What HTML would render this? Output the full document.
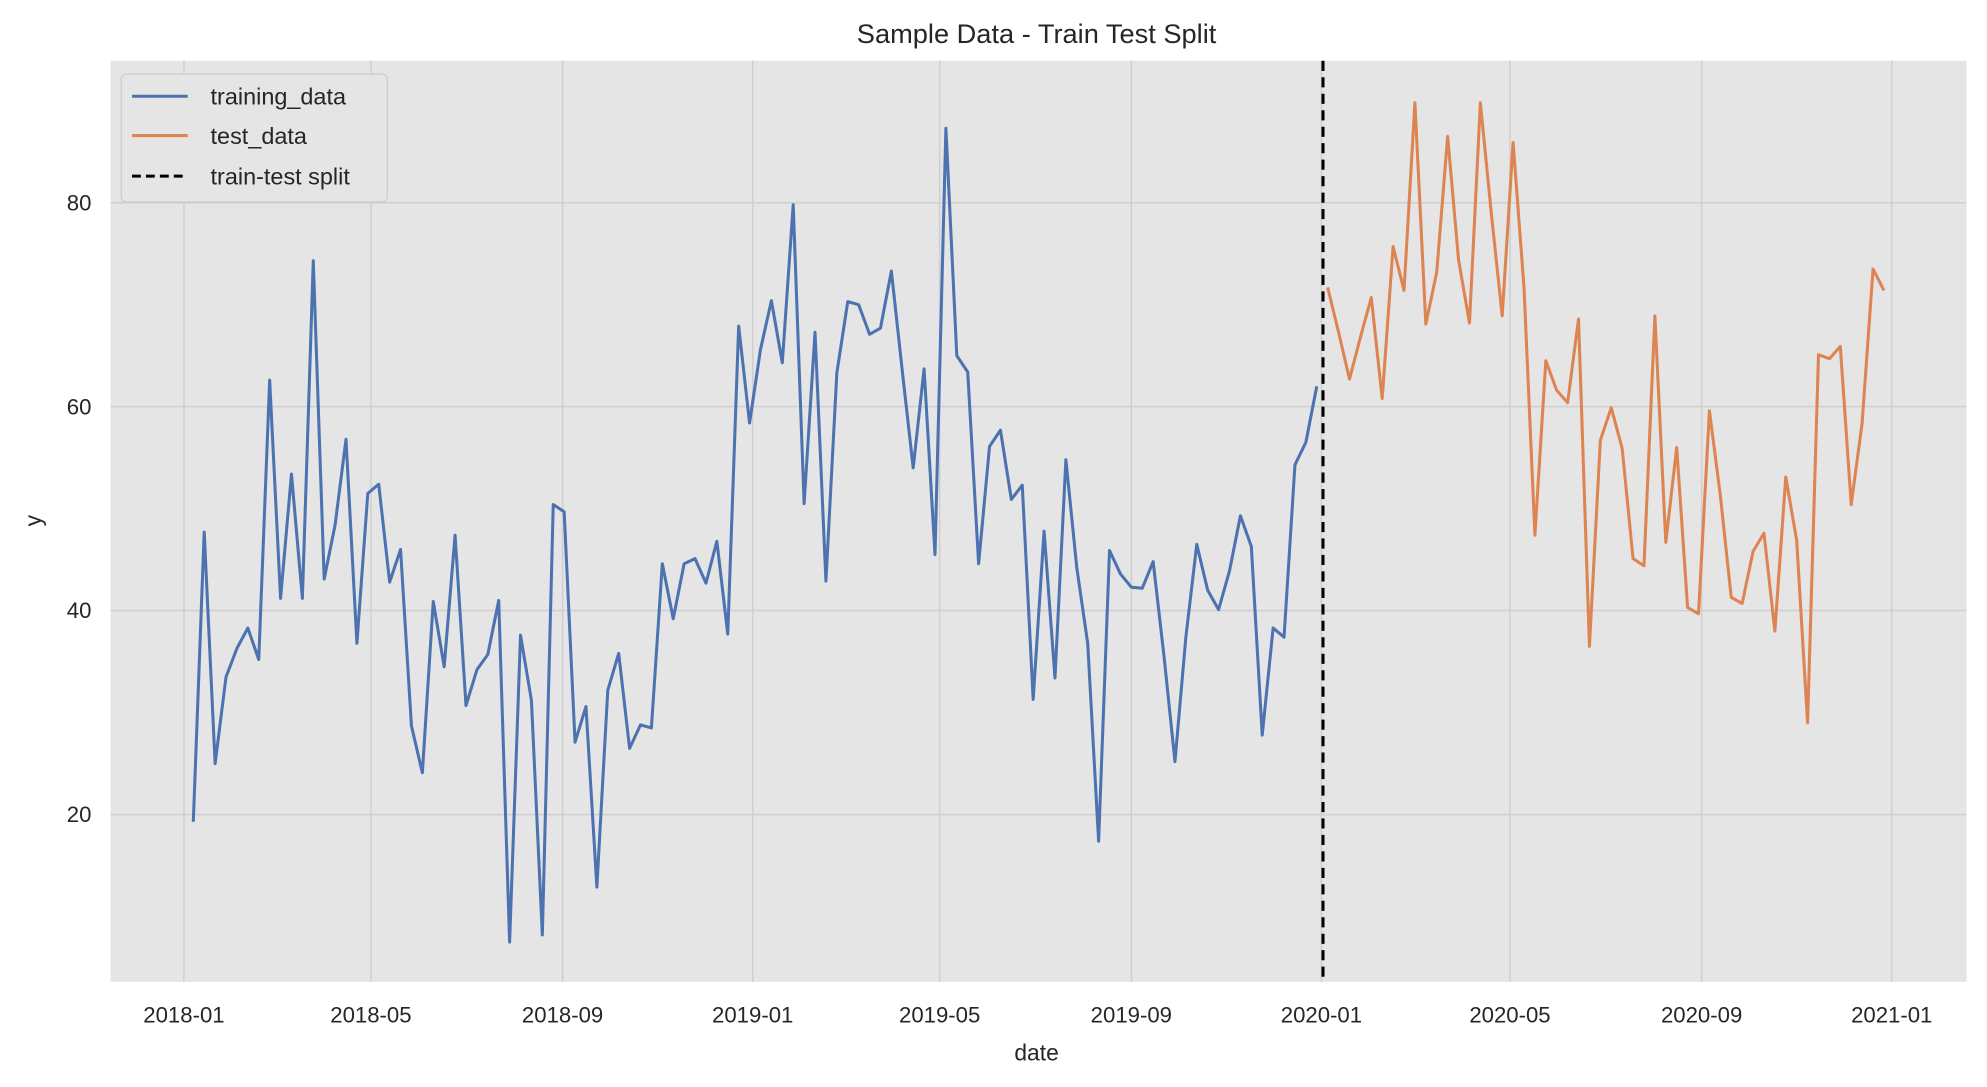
<!DOCTYPE html>
<html><head><meta charset="utf-8"><style>
html,body{margin:0;padding:0;background:#fff;}
svg{display:block;font-family:"Liberation Sans",Arial,sans-serif;}
</style></head><body>
<svg id="chart" width="1987" height="1087" viewBox="0 0 1568 858" xmlns="http://www.w3.org/2000/svg">
<rect x="87" y="48" width="1465" height="727" fill="#e5e5e5"/>
<g id="grid"></g>
<g id="series"></g>
<g id="ticks"></g>
<text x="818" y="34" text-anchor="middle" font-size="21.5" fill="#262626">Sample Data - Train Test Split</text>
<text x="818" y="837" text-anchor="middle" font-size="18" fill="#262626">date</text>
<text x="32" y="411" text-anchor="middle" font-size="18" fill="#262626" transform="rotate(-90 32 411)">y</text>
<g>
<rect x="95.5" y="58.5" width="210" height="101" rx="4" fill="#e5e5e5" stroke="#cccccc" stroke-width="1"/>
<g><line x1="104" y1="76" x2="148" y2="76" stroke="#4c72b0" stroke-width="2.4"/><text x="166" y="82.5" font-size="18.5" fill="#262626">training_data</text></g>
<g><line x1="104" y1="107" x2="148" y2="107" stroke="#dd8452" stroke-width="2.4"/><text x="166" y="113.5" font-size="18.5" fill="#262626">test_data</text></g>
<g><line x1="104" y1="139" x2="148" y2="139" stroke="#000" stroke-width="2.4" stroke-dasharray="7,4"/><text x="166" y="145.5" font-size="18.5" fill="#262626">train-test split</text></g>
</g>
</svg>
<script>
const trainStart = "2018-01-07";
const testStart = "2020-01-05";
const splitDate = "2020-01-02";
const trainValues = [19.3,47.7,25,33.5,36.3,38.3,35.2,62.6,41.2,53.4,41.2,74.3,43.1,48.4,56.8,36.8,51.5,52.4,42.8,46,28.7,24.1,40.9,34.5,47.4,30.7,34.2,35.7,41,7.5,37.6,31.2,8.2,50.4,49.7,27.1,30.6,12.9,32.2,35.8,26.5,28.8,28.5,44.6,39.2,44.6,45.1,42.7,46.8,37.7,67.9,58.4,65.6,70.4,64.3,79.8,50.5,67.3,42.9,63.3,70.3,70,67.1,67.7,73.3,63.5,54,63.7,45.5,87.3,65,63.4,44.6,56.1,57.7,50.9,52.3,31.3,47.8,33.4,54.8,44.2,36.8,17.4,45.9,43.6,42.3,42.2,44.8,35.5,25.2,37.4,46.5,42,40.1,43.9,49.3,46.3,27.8,38.3,37.4,54.3,56.5,62];
const testValues = [71.7,67.3,62.7,66.8,70.7,60.8,75.7,71.4,89.8,68.1,73.2,86.5,74.4,68.2,89.8,79,68.9,85.9,71.7,47.4,64.5,61.6,60.4,68.6,36.5,56.7,59.9,55.9,45.1,44.4,68.9,46.7,56,40.3,39.7,59.6,51.3,41.3,40.7,45.8,47.6,38,53.1,46.9,29,65.1,64.7,65.9,50.4,58.4,73.5,71.4];
const xTickLabels = ["2018-01","2018-05","2018-09","2019-01","2019-05","2019-09","2020-01","2020-05","2020-09","2021-01"];
const yTickValues = [20,40,60,80];

const NS="http://www.w3.org/2000/svg";
const DAY=86400000;
const t0=Date.parse("2018-01-01T00:00:00Z");
function xScale(ms){return 145+(ms-t0)/DAY*(1348/1096);}
function yScale(v){return 804-v*8.05;}
function mk(tag,attrs,parent){const e=document.createElementNS(NS,tag);for(const k in attrs)e.setAttribute(k,attrs[k]);parent.appendChild(e);return e;}
const grid=document.getElementById('grid'),ticks=document.getElementById('ticks'),series=document.getElementById('series');
xTickLabels.forEach(l=>{
  const x=xScale(Date.parse(l+"-01T00:00:00Z"));
  const g=mk('line',{x1:x,x2:x,y1:48,y2:775,stroke:'#cfcfcf','stroke-width':1.2},grid);
  
  
  const t=mk('text',{x:x,y:807,'text-anchor':'middle','font-size':17.5,fill:'#262626'},ticks);
  t.textContent=l;
  
  
});
yTickValues.forEach(v=>{
  const y=yScale(v);
  const g=mk('line',{x1:87,x2:1552,y1:y,y2:y,stroke:'#cfcfcf','stroke-width':1.2},grid);
  
  
  const t=mk('text',{x:72,y:y+6,'text-anchor':'end','font-size':17.5,fill:'#262626'},ticks);
  t.textContent=v;
  
  
});
function pts(start,vals){const s=Date.parse(start+"T00:00:00Z");return vals.map((v,i)=>xScale(s+i*7*DAY).toFixed(2)+","+yScale(v).toFixed(2)).join(" ");}
const tr=mk('polyline',{points:pts(trainStart,trainValues),fill:'none',stroke:'#4c72b0','stroke-width':2.4,'stroke-linejoin':'round'},series);


const te=mk('polyline',{points:pts(testStart,testValues),fill:'none',stroke:'#dd8452','stroke-width':2.4,'stroke-linejoin':'round'},series);


const sx=xScale(Date.parse(splitDate+"T00:00:00Z"));
const sl=mk('line',{x1:sx,x2:sx,y1:48,y2:775,stroke:'#000','stroke-width':2.4,'stroke-dasharray':'8,5'},series);


</script>
</body></html>
